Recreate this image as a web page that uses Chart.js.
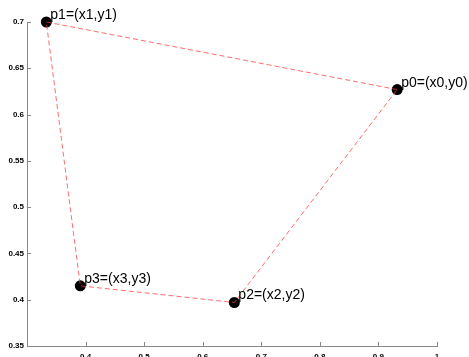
<!DOCTYPE html>
<html>
<head>
<meta charset="utf-8">
<script src="https://cdn.jsdelivr.net/npm/chart.js@4"></script>
<style>
  html, body { margin: 0; padding: 0; background: #fff; }
</style>
</head>
<body>
<canvas id="myChart" width="469" height="357"></canvas>
<script>
// the four vertices
var pointNames = ['p0=(x0,y0)', 'p1=(x1,y1)', 'p2=(x2,y2)', 'p3=(x3,y3)'];
var xValues = [0.932, 0.333, 0.654, 0.391];
var yValues = [0.627, 0.700, 0.397, 0.415];
// outline runs p0 -> p1 -> p3 -> p2 -> p0
var outlineOrder = [0, 1, 3, 2, 0];

var xTickValues = [0.4, 0.5, 0.6, 0.7, 0.8, 0.9, 1];
var yTickValues = [0.35, 0.4, 0.45, 0.5, 0.55, 0.6, 0.65, 0.7];

var vertices = xValues.map(function(x, i) { return {x: x, y: yValues[i]}; });
var outline = outlineOrder.map(function(i) { return vertices[i]; });

// inward tick marks + text next to each vertex
var decorations = {
  id: 'decorations',
  afterDraw: function(chart) {
    var ctx = chart.ctx, xs = chart.scales.x, ys = chart.scales.y;
    ctx.save();
    ctx.strokeStyle = '#888';
    ctx.lineWidth = 1;
    ctx.beginPath();
    xs.ticks.forEach(function(t) {
      var px = Math.round(xs.getPixelForValue(t.value)) + 0.5;
      ctx.moveTo(px, ys.bottom);
      ctx.lineTo(px, ys.bottom - 4);
    });
    ys.ticks.forEach(function(t) {
      var py = Math.round(ys.getPixelForValue(t.value)) + 0.5;
      ctx.moveTo(xs.left, py);
      ctx.lineTo(xs.left + 4, py);
    });
    ctx.stroke();

    ctx.fillStyle = '#000';
    ctx.font = '14px "Liberation Sans", Arial, sans-serif';
    ctx.textBaseline = 'alphabetic';
    pointNames.forEach(function(name, i) {
      var px = xs.getPixelForValue(xValues[i]);
      var py = ys.getPixelForValue(yValues[i]);
      ctx.fillText(name, px + 4, py - 3);
    });
    ctx.restore();
  }
};

function fmt(v) { return Number(v.toFixed(2)).toString(); }

var ctx = document.getElementById('myChart').getContext('2d');
var myChart = new Chart(ctx, {
  type: 'scatter',
  data: {
    datasets: [{
        data: outline,
        showLine: true,
        borderColor: 'rgba(255,60,60,0.75)',
        borderWidth: 1,
        borderDash: [5, 3],
        pointRadius: 0,
        fill: false,
        order: 0,
        clip: false
      }, {
        data: vertices,
        showLine: false,
        pointRadius: 5.5,
        pointBackgroundColor: '#000',
        pointBorderColor: '#000',
        pointBorderWidth: 0,
        order: 1,
        clip: false
      }
    ]
  },
  options: {
    responsive: false,
    animation: false,
    events: [],
    layout: {
      padding: {left: 0, right: 32, top: 22, bottom: 0}
    },
    plugins: {
      legend: { display: false },
      tooltip: { enabled: false }
    },
    scales: {
      x: {
        type: 'linear',
        min: 0.3,
        max: 1,
        afterBuildTicks: function(scale) {
          scale.ticks = xTickValues.map(function(v) { return {value: v}; });
        },
        afterFit: function(scale) { scale.height = 11; },
        grid: { drawOnChartArea: false, drawTicks: false },
        border: { color: '#888', width: 1 },
        ticks: {
          padding: 6,
          color: '#000',
          font: { family: '"Liberation Sans", Arial, sans-serif', size: 8, weight: 'bold' },
          maxRotation: 0,
          autoSkip: false,
          callback: function(v) { return fmt(v); }
        }
      },
      y: {
        type: 'linear',
        min: 0.35,
        max: 0.7,
        afterBuildTicks: function(scale) {
          scale.ticks = yTickValues.map(function(v) { return {value: v}; });
        },
        afterFit: function(scale) { scale.width = 27; },
        grid: { drawOnChartArea: false, drawTicks: false },
        border: { color: '#888', width: 1 },
        ticks: {
          padding: 3,
          color: '#000',
          font: { family: '"Liberation Sans", Arial, sans-serif', size: 8, weight: 'bold' },
          autoSkip: false,
          callback: function(v) { return fmt(v); }
        }
      }
    }
  },
  plugins: [decorations]
});
</script>
</body>
</html>
